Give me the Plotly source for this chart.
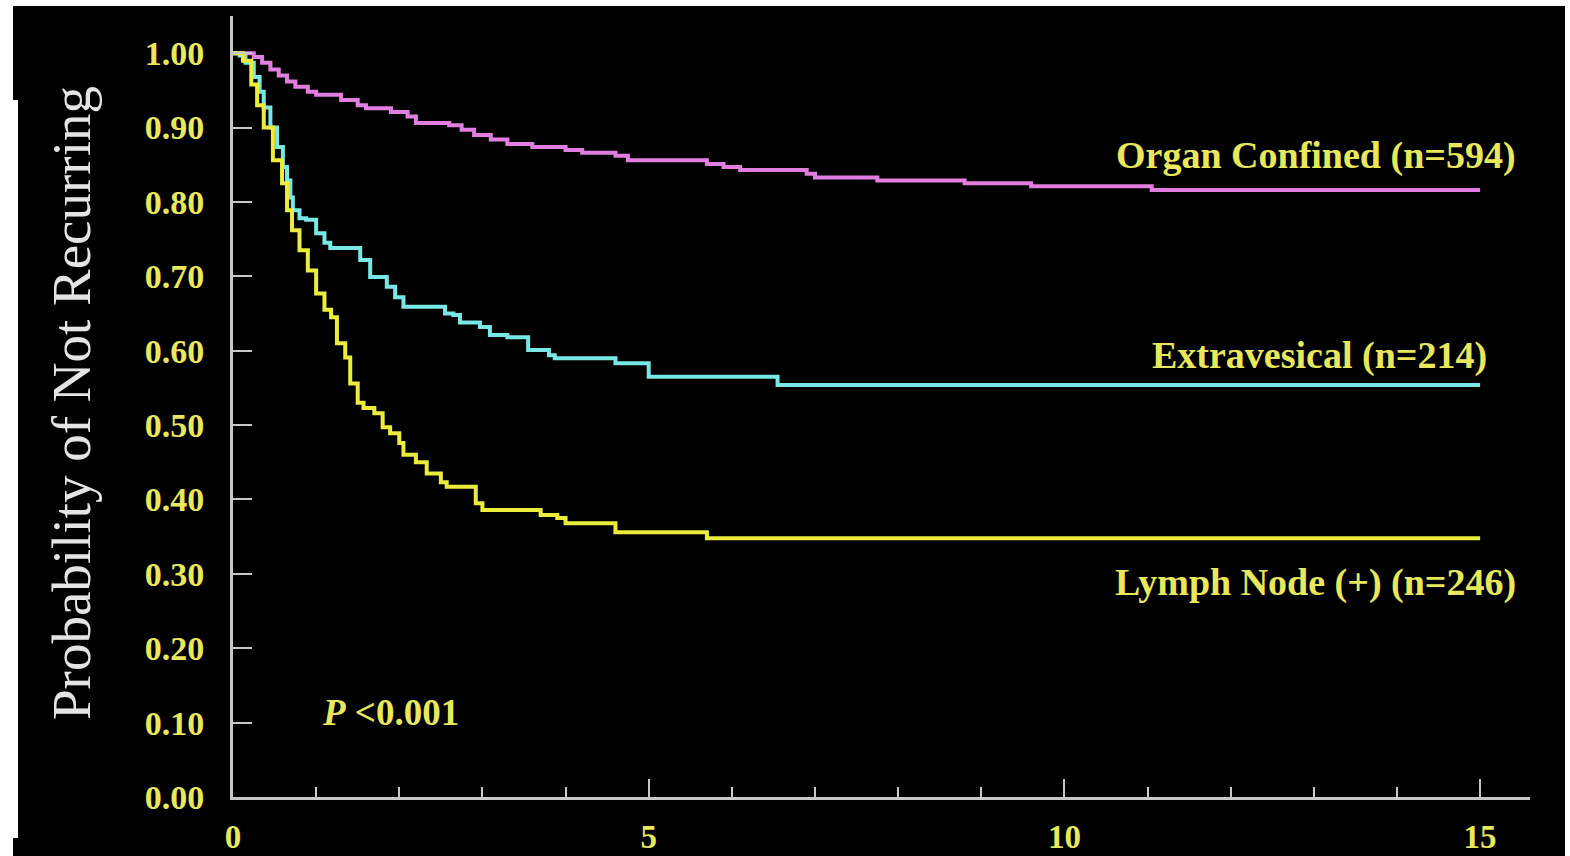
import plotly.graph_objects as go

# Organ Confined (n=594)
organ_t = [0, 0.25, 0.35, 0.45, 0.55, 0.65, 0.75, 0.9, 1.0, 1.3, 1.5, 1.6, 1.9, 2.1, 2.2, 2.6,
           2.75, 2.9, 3.1, 3.3, 3.6, 4.0, 4.2, 4.6, 4.75, 5.7, 5.9, 6.1, 6.9, 7.0, 7.75, 8.8,
           9.6, 11.05, 15.0]
organ_s = [1.0, 0.995, 0.987, 0.978, 0.970, 0.962, 0.955, 0.948, 0.944, 0.937, 0.930, 0.926,
           0.921, 0.915, 0.906, 0.903, 0.897, 0.890, 0.884, 0.878, 0.874, 0.870, 0.866, 0.862,
           0.856, 0.851, 0.847, 0.843, 0.838, 0.833, 0.829, 0.825, 0.821, 0.816, 0.816]

# Extravesical (n=214)
extra_t = [0, 0.08, 0.15, 0.25, 0.32, 0.37, 0.45, 0.53, 0.6, 0.65, 0.69, 0.72, 0.8, 0.88, 1.0,
           1.1, 1.17, 1.53, 1.65, 1.85, 1.95, 2.05, 2.55, 2.65, 2.73, 2.97, 3.09, 3.3, 3.55, 3.8,
           3.87, 4.6, 5.0, 6.55, 15.0]
extra_s = [1.0, 0.997, 0.987, 0.968, 0.948, 0.927, 0.900, 0.874, 0.847, 0.829, 0.806, 0.789,
           0.778, 0.776, 0.758, 0.745, 0.738, 0.722, 0.699, 0.686, 0.672, 0.659, 0.650, 0.648,
           0.638, 0.632, 0.621, 0.618, 0.601, 0.594, 0.590, 0.583, 0.565, 0.554, 0.554]

# Lymph Node (+) (n=246)
lymph_t = [0, 0.12, 0.22, 0.29, 0.37, 0.48, 0.59, 0.65, 0.71, 0.8, 0.9, 1.0, 1.1, 1.18, 1.25,
           1.35, 1.41, 1.5, 1.57, 1.7, 1.8, 1.89, 2.0, 2.05, 2.2, 2.33, 2.5, 2.57, 2.92, 3.0,
           3.7, 3.9, 4.0, 4.6, 5.7, 15.0]
lymph_s = [1.0, 0.99, 0.958, 0.930, 0.900, 0.856, 0.825, 0.789, 0.762, 0.735, 0.708, 0.677,
           0.655, 0.645, 0.610, 0.591, 0.556, 0.530, 0.523, 0.516, 0.497, 0.489, 0.476, 0.460,
           0.450, 0.435, 0.423, 0.417, 0.395, 0.386, 0.379, 0.375, 0.368, 0.356, 0.348, 0.348]

y_ticks = [0.0, 0.1, 0.2, 0.3, 0.4, 0.5, 0.6, 0.7, 0.8, 0.9, 1.0]
x_ticks = [0, 5, 10, 15]

PINK = "#e27ee2"
CYAN = "#78e8e6"
YEL = "#ecec3c"
TXT = "#e8e85a"
AX = "#c8c8c8"
SERIF = "Liberation Serif"

fig = go.Figure()
for t, s, c, name in [(organ_t, organ_s, PINK, "Organ Confined (n=594)"),
                      (extra_t, extra_s, CYAN, "Extravesical (n=214)"),
                      (lymph_t, lymph_s, YEL, "Lymph Node (+) (n=246)")]:
    fig.add_trace(go.Scatter(x=t, y=s, mode="lines", line=dict(color=c, width=4, shape="hv"),
                             name=name, showlegend=False))

W, H = 1570, 856
L, R, T, B = 233, 40, 16, 59
pw, ph = W - L - R, H - T - B


def px(xp):
    return (xp - L) / pw


def py(yp):
    return (H - B - yp) / ph


# white frame around the black slide
shapes = []
for x0, x1, y0, y1 in [(18, 1565, 6, 856), (13, 18, 6, 100), (13, 18, 838, 856)]:
    shapes.append(dict(type="rect", xref="paper", yref="paper", x0=px(x0), x1=px(x1),
                       y0=py(y1), y1=py(y0), fillcolor="black", line=dict(width=0),
                       layer="below"))

fig.update_layout(
    autosize=False,
    width=W, height=H,
    margin=dict(l=L, r=R, t=T, b=B, pad=0, autoexpand=False),
    paper_bgcolor="white",
    plot_bgcolor="black",
    shapes=shapes,
    xaxis=dict(range=[0, 15.6], automargin=False, showgrid=False, zeroline=False,
               showline=True, linecolor=AX, linewidth=3, tickmode="array", tickvals=x_ticks,
               ticktext=[str(v) for v in x_ticks], ticks="inside", ticklen=18,
               tickwidth=2, tickcolor=AX, ticklabelstandoff=8,
               tickfont=dict(family=SERIF, size=33, color=TXT, weight="bold"),
               minor=dict(dtick=1, tick0=0, ticks="inside", ticklen=10, tickwidth=2,
                          tickcolor=AX, showgrid=False)),
    yaxis=dict(range=[0, 1.05], automargin=False, showgrid=False, zeroline=False,
               showline=True, linecolor=AX, linewidth=3, tickmode="array", tickvals=y_ticks,
               ticktext=[f"{v:.2f}" for v in y_ticks], ticks="inside", ticklen=19,
               tickwidth=2, tickcolor=AX, ticklabelstandoff=19,
               tickfont=dict(family=SERIF, size=34, color=TXT, weight="bold")),
    annotations=[
        dict(text="Probability of Not Recurring", xref="paper", yref="paper",
             x=px(72), y=py(403), xanchor="center", yanchor="middle", textangle=-90,
             showarrow=False, font=dict(family=SERIF, size=55, color="#e4e4e4")),
        dict(text="Organ Confined (n=594)", xref="x", yref="y", x=15.46, y=0.863,
             xanchor="right", yanchor="middle", showarrow=False,
             font=dict(family=SERIF, size=38, color=TXT, weight="bold")),
        dict(text="Extravesical (n=214)", xref="x", yref="y", x=15.11, y=0.594,
             xanchor="right", yanchor="middle", showarrow=False,
             font=dict(family=SERIF, size=38, color=TXT, weight="bold")),
        dict(text="Lymph Node (+) (n=246)", xref="x", yref="y", x=15.46, y=0.288,
             xanchor="right", yanchor="middle", showarrow=False,
             font=dict(family=SERIF, size=38, color=TXT, weight="bold")),
        dict(text="<i>P</i> &lt;0.001", xref="x", yref="y", x=1.05, y=0.114,
             xanchor="left", yanchor="middle", showarrow=False,
             font=dict(family=SERIF, size=37, color=TXT, weight="bold")),
    ],
)

fig.write_html("out.html")
